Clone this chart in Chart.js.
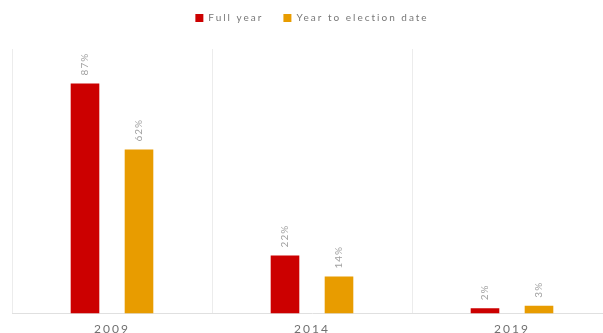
<!DOCTYPE html>
<html>
<head>
<meta charset="utf-8">
<script src="https://cdn.jsdelivr.net/npm/chart.js@4"></script>
<style>
    html, body { margin: 0; padding: 0; background: #fff; overflow: hidden; }
    #wrap { width: 624px; height: 351px; margin-top: -7px; }
</style>
</head>
<body>
<div id="wrap"><canvas id="chart"></canvas></div>
<script>
const years = ['2009', '2014', '2019'];
const fullYear = [87, 22, 2];
const yearToElection = [62, 14, 3];

const red = '#cc0000';
const orange = '#e89c00';
const fontFamily = 'Lato, "DejaVu Sans", sans-serif';

// rotated value labels above each bar
const barLabels = {
    id: 'barLabels',
    afterDatasetsDraw(chart) {
        const ctx = chart.ctx;
        ctx.save();
        ctx.letterSpacing = '1px';
        ctx.font = '10px ' + fontFamily;
        ctx.fillStyle = '#a0a0a0';
        ctx.textAlign = 'left';
        ctx.textBaseline = 'middle';
        chart.data.datasets.forEach((ds, i) => {
            chart.getDatasetMeta(i).data.forEach((bar, j) => {
                ctx.save();
                ctx.translate(bar.x, bar.y - 8);
                ctx.rotate(-Math.PI / 2);
                ctx.fillText(ds.data[j] + '%', 0, 0);
                ctx.restore();
            });
        });
        ctx.restore();
    }
};

// wider tracking on legend and axis text (also while measuring)
const spacing = {
    id: 'spacing',
    beforeLayout(chart) {
        chart.ctx.letterSpacing = '2px';
    },
    beforeDraw(chart) {
        chart.ctx.letterSpacing = '2px';
    },
    beforeDatasetsDraw(chart) {
        chart.ctx.letterSpacing = '1px';
    }
};

// extra room under the legend
const legendGap = {
    id: 'legendGap',
    beforeInit(chart) {
        const fit = chart.legend.fit;
        chart.legend.fit = function () {
            fit.bind(chart.legend)();
            this.height += 16;
        };
    }
};

new Chart(document.getElementById('chart'), {
    type: 'bar',
    data: {
        labels: years,
        datasets: [
            { label: 'Full year', data: fullYear, backgroundColor: red },
            { label: 'Year to election date', data: yearToElection, backgroundColor: orange }
        ]
    },
    options: {
        responsive: true,
        maintainAspectRatio: false,
        animation: false,
        datasets: {
            bar: { categoryPercentage: 0.54, barPercentage: 0.53 }
        },
        layout: { padding: { left: 12, right: 12, top: 0, bottom: 0 } },
        scales: {
            x: {
                grid: { offset: true, color: '#ececec', drawTicks: false },
                border: { color: '#e0e0e0' },
                ticks: {
                    color: '#707070',
                    padding: 8,
                    font: { family: fontFamily, size: 12 }
                }
            },
            y: {
                display: false,
                min: 0,
                max: 100
            }
        },
        plugins: {
            legend: {
                position: 'top',
                labels: {
                    boxWidth: 8,
                    boxHeight: 8,
                    padding: 20,
                    color: '#777',
                    font: { family: fontFamily, size: 10 }
                }
            },
            tooltip: { enabled: false }
        }
    },
    plugins: [barLabels, spacing, legendGap]
});
</script>
</body>
</html>
